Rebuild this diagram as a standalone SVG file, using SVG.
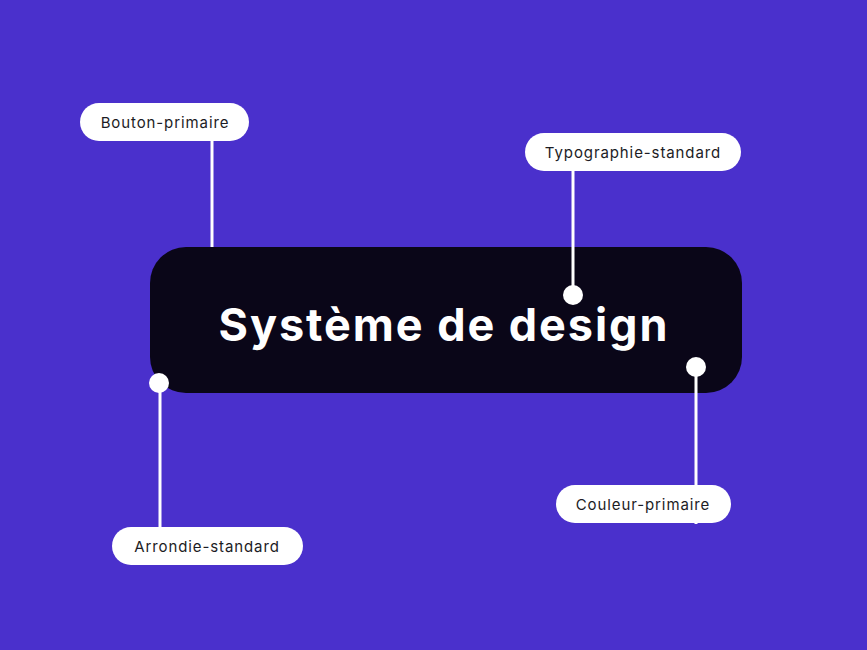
<svg xmlns="http://www.w3.org/2000/svg" width="867" height="650" viewBox="0 0 867 650">
<style>
.pill{fill:#ffffff}
.lbl{font-family:Inter,"Liberation Sans",sans-serif;font-size:15px;letter-spacing:0.9px;fill:#1c1c24;text-anchor:middle;dominant-baseline:central}
.wire{stroke:#ffffff;stroke-width:3;fill:none}
.dot{fill:#ffffff}
</style>
<rect width="867" height="650" fill="#4a30cc"/>
<g id="main">
<rect x="150" y="247" width="592" height="146" rx="36" fill="#0a0618"/>
<text x="443" y="324" font-family="Inter,'Liberation Sans',sans-serif" font-size="45" font-weight="700" fill="#ffffff" text-anchor="middle" dominant-baseline="central" textLength="449" lengthAdjust="spacing">Système de design</text>
</g>
<g id="connectors">
<line class="wire" x1="212" y1="141" x2="212" y2="247"/>
<line class="wire" x1="573" y1="171" x2="573" y2="295"/>
<line class="wire" x1="696" y1="367" x2="696" y2="524"/>
<line class="wire" x1="160" y1="383" x2="160" y2="527"/>
</g>
<g id="dots">
<circle class="dot" cx="573" cy="295" r="10"/>
<circle class="dot" cx="696" cy="367" r="10"/>
<circle class="dot" cx="159" cy="383" r="10"/>
</g>
<g id="bouton-primaire">
<rect class="pill" x="80" y="103" width="169" height="38" rx="19"/>
<text class="lbl" x="165" y="122">Bouton-primaire</text>
</g>
<g id="typographie-standard">
<rect class="pill" x="525" y="133" width="216" height="38" rx="19"/>
<text class="lbl" x="633" y="152">Typographie-standard</text>
</g>
<g id="couleur-primaire">
<rect class="pill" x="556" y="485" width="175" height="38" rx="19"/>
<text class="lbl" x="643" y="504">Couleur-primaire</text>
</g>
<g id="arrondie-standard">
<rect class="pill" x="112" y="527" width="191" height="38" rx="19"/>
<text class="lbl" x="207" y="546">Arrondie-standard</text>
</g>
</svg>
